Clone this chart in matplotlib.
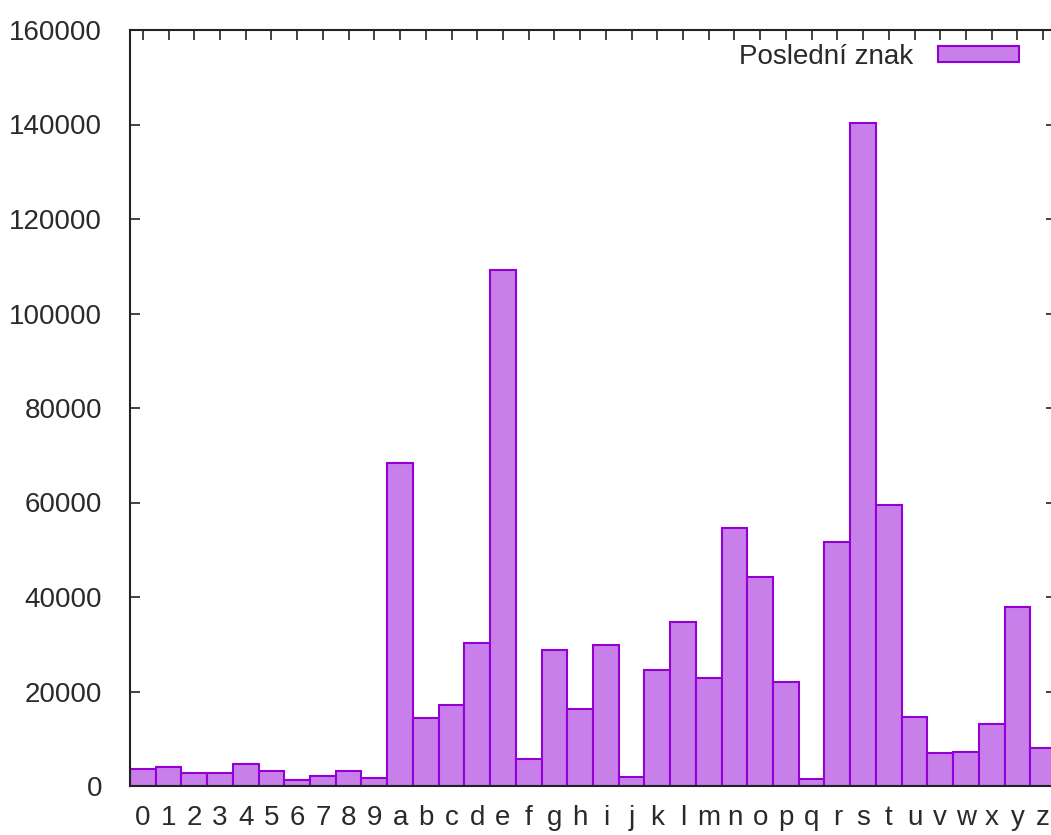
import matplotlib
matplotlib.use('Agg')
import matplotlib.pyplot as plt

# Četnost posledního znaku
znaky = list('0123456789abcdefghijklmnopqrstuvwxyz')
cetnost = [3600, 4000, 2800, 2800, 4700, 3200, 1300, 2100, 3200, 1700,
           68300, 14300, 17200, 30200, 109300, 5700, 28700, 16400, 29800, 1900,
           24500, 34800, 22900, 54600, 44200, 22100, 1500, 51600, 140400, 59500,
           14600, 7000, 7300, 13100, 37800, 8100]
yticks = [0, 20000, 40000, 60000, 80000, 100000, 120000, 140000, 160000]

plt.rcParams['font.family'] = ['Liberation Sans', 'DejaVu Sans']

W, H = 1051, 835
fig = plt.figure(figsize=(W / 100, H / 100), dpi=100)
# pravý okraj grafu leží mimo obrázek (ořezaný)
ax = fig.add_axes([130 / W, 1 - 786 / H, (1056 - 130) / W, (786 - 30) / H])

x = range(len(znaky))
ax.bar(x, cetnost, width=1.0, color='#c97fe9', edgecolor='#9400d3',
       linewidth=1.5, label='Poslední znak')

ax.set_xlim(-0.5, len(znaky) - 0.5)
ax.set_ylim(0, 160000)
ax.set_xticks(list(x))
ax.set_xticklabels(znaky)
ax.set_yticks(yticks)
ax.set_yticklabels([str(v) for v in yticks])

ax.set_axisbelow(True)
ax.tick_params(axis='both', direction='in', length=7, width=1.2,
               color='#222222', labelsize=20, labelcolor='#2a2a2a',
               top=True, right=True)
ax.tick_params(axis='x', bottom=False, pad=14)
ax.tick_params(axis='y', pad=20)
for s in ax.spines.values():
    s.set_linewidth(1.5)
    s.set_color('#222222')

ax.legend(loc='upper right', bbox_to_anchor=(1019 / W, 1 - 44 / H),
          bbox_transform=fig.transFigure, frameon=False, markerfirst=False,
          fontsize=20, handlelength=2.9, handleheight=0.5, handletextpad=0.9,
          borderpad=0, borderaxespad=0, labelcolor='#2a2a2a')

plt.savefig('out.png', dpi=100)
